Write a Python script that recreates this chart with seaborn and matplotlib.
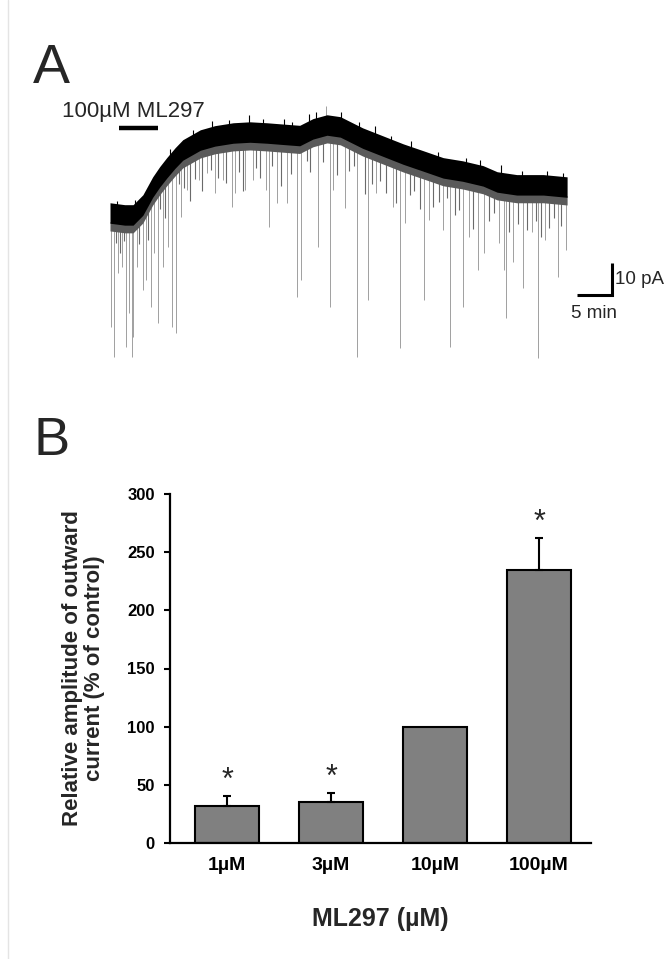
import matplotlib
matplotlib.use("Agg")
import matplotlib.pyplot as plt
from matplotlib.lines import Line2D
import seaborn as sns
import pandas as pd
import numpy as np

# Panel A: holding current trace (time in min, current in pA)
baseTime = [0.0, 2.1, 3.3, 4.7, 6.1, 7.1, 8.1, 9.3, 10.4, 12.9, 15.0, 17.6, 20.0, 22.4,
            25.3, 27.1, 29.0, 31.0, 32.9, 36.1, 39.0, 41.9, 44.7, 47.6, 50.4, 53.3,
            55.3, 58.1, 61.9, 65.3]
baseCurrent = [0.0, -0.6, -0.6, 2.5, 8.1, 11.3, 14.1, 17.2, 19.7, 22.8, 24.1, 25.0, 25.3,
               25.0, 24.5, 24.2, 26.3, 27.5, 26.9, 23.4, 20.9, 18.4, 16.3, 14.1, 13.1,
               11.6, 9.7, 8.8, 8.8, 8.1]

# large inward events (time, peak current)
spikeTime = [0.1, 0.6, 1.1, 1.7, 2.3, 2.7, 3.1, 3.3, 3.9, 4.7, 5.1, 5.9, 6.3, 6.9, 7.6,
             8.3, 8.9, 9.4, 10.1, 11.0, 12.7, 13.9, 15.0, 16.1, 17.4, 17.9, 19.3, 20.4,
             22.3, 22.7, 23.9, 25.3, 26.7, 27.3, 29.7, 31.4, 31.9, 33.6, 35.3, 36.9,
             38.0, 40.4, 41.4, 42.1, 44.9, 45.6, 47.6, 48.6, 50.4, 51.3, 52.6, 53.4,
             55.6, 56.3, 56.6, 57.6, 59.0, 60.3, 61.1, 62.1, 64.0, 65.1]
spikePeak = [-35.6, -45.0, -18.8, -16.9, -41.9, -31.3, -45.0, -38.8, -16.9, -24.1, -20.9,
             -29.4, -12.5, -34.4, -16.9, -10.6, -35.6, -37.5, -1.3, 7.2, 10.3, 12.5, 6.3,
             10.3, 1.9, 6.3, 7.2, 10.3, 7.2, -4.4, 3.1, 3.1, -26.3, -20.9, -10.6, -29.4,
             7.2, 1.6, -45.0, -27.2, 6.3, 1.9, -42.2, -3.1, -27.2, -2.2, -5.3, -41.9,
             -29.4, -7.5, -17.8, -12.5, -9.4, -17.8, -32.8, -15.3, -23.4, -5.9, -45.3,
             -8.4, -20.0, -11.6]

# small events hanging under the band (depth in pA below the band)
shortTime = [0.9, 1.4, 2.0, 4.2, 5.5, 7.2, 7.9, 9.8, 10.6, 11.5, 12.2, 13.2, 14.4, 15.5,
             16.6, 18.5, 19.0, 20.9, 21.5, 23.1, 24.4, 25.9, 28.1, 28.6, 30.4, 32.4, 34.2,
             34.8, 36.4, 37.4, 38.6, 39.5, 40.9, 42.8, 43.5, 44.3, 46.2, 47.0, 48.1, 49.3,
             49.9, 51.9, 54.1, 54.8, 57.0, 58.3, 59.6, 60.8, 61.6, 62.7, 63.4, 64.5]
shortDepth = [6, 9, 5, 8, 11, 7, 12, 6, 9, 14, 8, 13, 7, 10, 12, 9, 15, 8, 11, 7, 13, 9, 6,
              10, 8, 12, 9, 7, 14, 10, 8, 11, 13, 9, 7, 12, 10, 8, 6, 11, 9, 14, 10, 7, 12,
              9, 11, 8, 13, 10, 7, 9]

# noise on the top edge (height in pA above the band)
upTime = [1.0, 3.6, 8.6, 11.8, 14.6, 17.0, 19.8, 21.8, 24.8, 26.0, 28.4, 29.4, 33.0,
          35.6, 37.8, 40.1, 43.0, 46.8, 50.9, 52.8, 55.9, 58.8, 62.5, 64.7]
upHeight = [0.8, 0.8, 1.5, 1.2, 1.8, 1.0, 2.0, 1.2, 1.6, 1.0, 2.2, 1.8, 1.6, 1.2, 2.0,
            1.0, 1.6, 1.2, 1.0, 1.4, 2.2, 1.0, 1.4, 1.0]
tallUpTime = [30.9]
tallUpPeak = [33.4]

drugStart, drugEnd = 1.3, 6.9
drugLabel = "100\u00b5M ML297"
scaleMin, scalePA = 5, 10

# Panel B: bar chart
concLabels = ["1\u00b5M", "3\u00b5M", "10\u00b5M", "100\u00b5M"]
meanAmp = [31.7, 35.1, 100.0, 235.0]
semAmp = [8.6, 8.0, 0.0, 27.3]
significant = [True, True, False, True]

# pixel layout helpers for panel A
X0, PXMIN, Y0, PXPA = 110, 7.0, 213, 3.2
def px2t(x):
  return (x - X0) / PXMIN
def py2i(y):
  return (Y0 - y) / PXPA

sns.set_theme(style="ticks")
plt.rcParams['font.family'] = ['Liberation Sans', 'DejaVu Sans']

fig = plt.figure(figsize=(6.68, 9.59), dpi=100)
W, H = 668, 959

fig.add_artist(Line2D([8 / W, 8 / W], [0, 1], color='#e4e4e4', lw=1))
fig.text(33 / W, 1 - 83 / H, "A", fontsize=40, va='baseline', ha='left')
fig.text(33 / W, 1 - 455 / H, "B", fontsize=39, va='baseline', ha='left')

# ---- A
axA = fig.add_axes([100 / W, 1 - 370 / H, 560 / W, 280 / H])
axA.set_xlim(px2t(100), px2t(660))
axA.set_ylim(py2i(370), py2i(90))
axA.axis('off')

bt = np.array(baseTime)
bc = np.array(baseCurrent)
half = 3.2
axA.vlines(spikeTime, spikePeak, np.interp(spikeTime, bt, bc), color='#a0a0a0', lw=0.7, zorder=1)
axA.vlines(tallUpTime, np.interp(tallUpTime, bt, bc), tallUpPeak, color='#a0a0a0', lw=0.7, zorder=1)
sb = np.interp(shortTime, bt, bc) - half
axA.vlines(shortTime, sb - np.array(shortDepth), sb + 1, color='#6a6a6a', lw=0.8, zorder=2)
ub = np.interp(upTime, bt, bc) + half
axA.vlines(upTime, ub - 1, ub + np.array(upHeight), color='black', lw=0.8, zorder=3)
axA.fill_between(bt, bc - half - 2.4, bc - half + 0.5, color='#5a5a5a', lw=0, zorder=2)
axA.fill_between(bt, bc - half, bc + half, color='black', lw=0, zorder=3)

axA.plot([drugStart, drugEnd], [py2i(128)] * 2, color='black', lw=3.2, solid_capstyle='butt')
axA.text(px2t(62), py2i(117), drugLabel, fontsize=16, ha='left', va='baseline')

sbX, sbY = px2t(612), py2i(295)
axA.plot([sbX - scaleMin, sbX, sbX], [sbY, sbY, sbY + scalePA], color='black', lw=2.2,
         solid_joinstyle='miter', solid_capstyle='butt')
axA.text(sbX + 0.5, sbY + scalePA / 2, "%d pA" % scalePA, fontsize=13.5, ha='left', va='center')
axA.text(sbX - scaleMin / 2, py2i(318), "%d min" % scaleMin, fontsize=13.5, ha='center', va='baseline')

# ---- B
axB = fig.add_axes([170 / W, 1 - 843 / H, (591 - 170) / W, (843 - 494) / H])
d = pd.DataFrame({'conc': concLabels, 'amp': meanAmp})
sns.barplot(x='conc', y='amp', data=d, color='#808080', saturation=1, width=0.615,
            edgecolor='black', linewidth=1.5, errorbar=None, ax=axB, zorder=2)
idx = [i for i, s in enumerate(semAmp) if s > 0]
axB.errorbar(idx, [meanAmp[i] for i in idx],
             yerr=[[0] * len(idx), [semAmp[i] for i in idx]],
             fmt='none', ecolor='black', elinewidth=1.5, capsize=3, capthick=1.5, zorder=3)
for i, sig in enumerate(significant):
  if sig:
    axB.annotate('*', xy=(i, meanAmp[i] + semAmp[i]), xytext=(0, 11),
                 textcoords='offset points', ha='center', va='center', fontsize=22)

axB.set_xlim(-0.55, 3.5)
axB.set_ylim(0, 300)
axB.set_yticks(range(0, 301, 50))
sns.despine(ax=axB)
for s in ['left', 'bottom']:
  axB.spines[s].set_linewidth(1.6)
  axB.spines[s].set_color('black')
axB.tick_params(axis='y', direction='out', length=4, width=1.5, pad=7, labelsize=12, colors='black')
axB.tick_params(axis='x', length=0, pad=10, labelsize=14, colors='black')
for lab in axB.get_xticklabels() + axB.get_yticklabels():
  lab.set_fontweight('bold')
axB.set_xlabel("ML297 (\u00b5M)", fontsize=18, fontweight='bold', labelpad=24)
axB.set_ylabel("Relative amplitude of outward\ncurrent (% of control)", fontsize=16,
               fontweight='bold', linespacing=1.05)
axB.yaxis.set_label_coords(-0.155, 0.5)

plt.savefig('out.png', dpi=100)
